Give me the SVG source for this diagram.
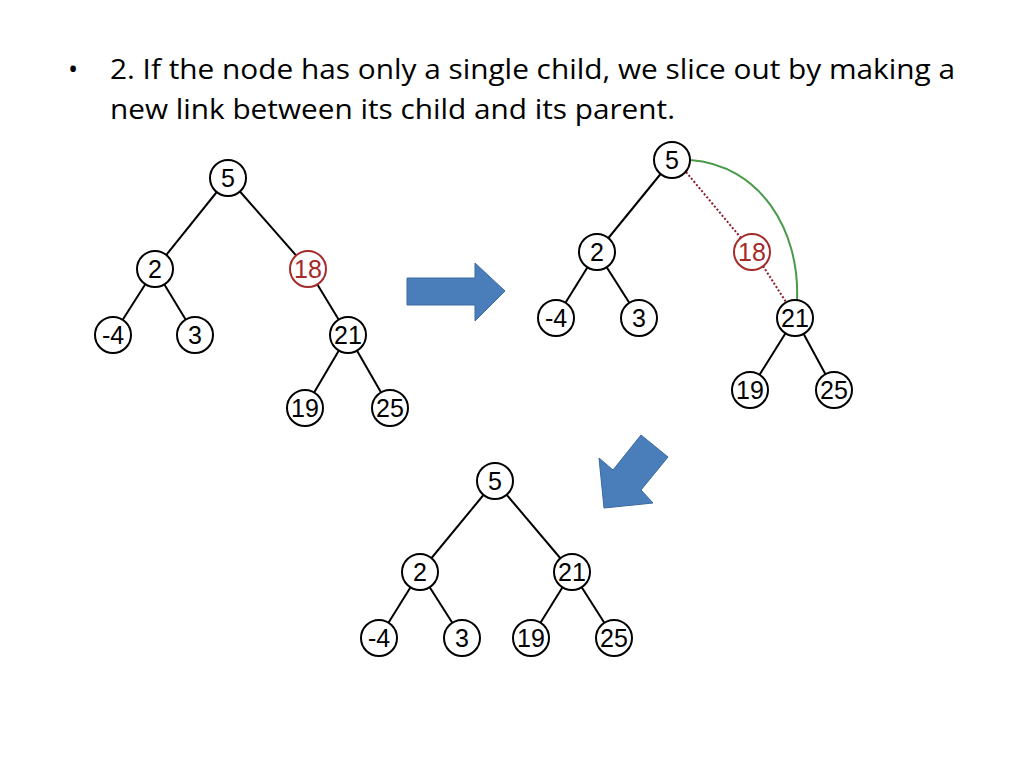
<svg xmlns="http://www.w3.org/2000/svg" width="1024" height="768" viewBox="0 0 1024 768">
<style>
.n circle{fill:#fff;stroke:#000;stroke-width:2}
.n text{font-family:"Liberation Sans",Arial,sans-serif;font-size:25px;text-anchor:middle;dominant-baseline:central}
.r circle{stroke:#a52a2a}
.r text{fill:#a52a2a}
.e line{stroke:#000;stroke-width:2}
.e line.d{stroke:#8b1a2a;stroke-dasharray:2,2}
.t{font-family:"Open Sans","Liberation Sans",sans-serif;font-size:27px;fill:#000}
.ar{fill:#4a7ebb;stroke:#3a6aa0;stroke-width:1}
</style>
<rect width="1024" height="768" fill="#fff"/>
<text class="t" x="68" y="79">•</text>
<text class="t" x="110" y="79" textLength="845" lengthAdjust="spacingAndGlyphs">2. If the node has only a single child, we slice out by making a</text>
<text class="t" x="110" y="119" textLength="565" lengthAdjust="spacingAndGlyphs">new link between its child and its parent.</text>
<g id="connectors" class="e">
<line x1="228" y1="178" x2="155" y2="269"/><line x1="228" y1="178" x2="308" y2="269"/>
<line x1="155" y1="269" x2="113" y2="335"/><line x1="155" y1="269" x2="195" y2="335"/>
<line x1="308" y1="269" x2="348" y2="335"/><line x1="348" y1="335" x2="305" y2="408"/><line x1="348" y1="335" x2="390" y2="408"/>
<line x1="672" y1="160" x2="597" y2="252"/><line x1="597" y1="252" x2="556" y2="318"/><line x1="597" y1="252" x2="639" y2="318"/>
<line x1="795" y1="318" x2="750" y2="390"/><line x1="795" y1="318" x2="834" y2="390"/>
<line class="d" x1="686" y1="172" x2="741" y2="238"/>
<line class="d" x1="763" y1="266" x2="786" y2="302"/>
<path d="M690,160 C760,165 800,230 797,300" fill="none" stroke="#4a9a4a" stroke-width="2"/>
<line x1="495" y1="481" x2="420" y2="572"/><line x1="495" y1="481" x2="572" y2="572"/>
<line x1="420" y1="572" x2="379" y2="638"/><line x1="420" y1="572" x2="462" y2="638"/>
<line x1="572" y1="572" x2="531" y2="638"/><line x1="572" y1="572" x2="614" y2="638"/>
</g>
<polygon class="ar" points="407,278 475,278 475,263 505,291 475,321 475,305 407,305"/>
<polygon class="ar" points="641,435 668,457 641,490 653,503 604,508 599,458 613,470"/>
<g id="t1">
<g id="a5" class="n"><circle cx="228" cy="178" r="18"/><text x="228" y="178">5</text></g>
<g id="a2" class="n"><circle cx="155" cy="269" r="18"/><text x="155" y="269">2</text></g>
<g id="a18" class="n r"><circle cx="308" cy="269" r="18"/><text x="308" y="269">18</text></g>
<g id="am4" class="n"><circle cx="113" cy="335" r="18"/><text x="113" y="335">-4</text></g>
<g id="a3" class="n"><circle cx="195" cy="335" r="18"/><text x="195" y="335">3</text></g>
<g id="a21" class="n"><circle cx="348" cy="335" r="18"/><text x="348" y="335">21</text></g>
<g id="a19" class="n"><circle cx="305" cy="408" r="18"/><text x="305" y="408">19</text></g>
<g id="a25" class="n"><circle cx="390" cy="408" r="18"/><text x="390" y="408">25</text></g>
</g>
<g id="t2">
<g id="b5" class="n"><circle cx="672" cy="160" r="18"/><text x="672" y="160">5</text></g>
<g id="b2" class="n"><circle cx="597" cy="252" r="18"/><text x="597" y="252">2</text></g>
<g id="b18" class="n r"><circle cx="752" cy="252" r="18"/><text x="752" y="252">18</text></g>
<g id="bm4" class="n"><circle cx="556" cy="318" r="18"/><text x="556" y="318">-4</text></g>
<g id="b3" class="n"><circle cx="639" cy="318" r="18"/><text x="639" y="318">3</text></g>
<g id="b21" class="n"><circle cx="795" cy="318" r="18"/><text x="795" y="318">21</text></g>
<g id="b19" class="n"><circle cx="750" cy="390" r="18"/><text x="750" y="390">19</text></g>
<g id="b25" class="n"><circle cx="834" cy="390" r="18"/><text x="834" y="390">25</text></g>
</g>
<g id="t3">
<g id="c5" class="n"><circle cx="495" cy="481" r="18"/><text x="495" y="481">5</text></g>
<g id="c2" class="n"><circle cx="420" cy="572" r="18"/><text x="420" y="572">2</text></g>
<g id="c21" class="n"><circle cx="572" cy="572" r="18"/><text x="572" y="572">21</text></g>
<g id="cm4" class="n"><circle cx="379" cy="638" r="18"/><text x="379" y="638">-4</text></g>
<g id="c3" class="n"><circle cx="462" cy="638" r="18"/><text x="462" y="638">3</text></g>
<g id="c19" class="n"><circle cx="531" cy="638" r="18"/><text x="531" y="638">19</text></g>
<g id="c25" class="n"><circle cx="614" cy="638" r="18"/><text x="614" y="638">25</text></g>
</g>
</svg>
